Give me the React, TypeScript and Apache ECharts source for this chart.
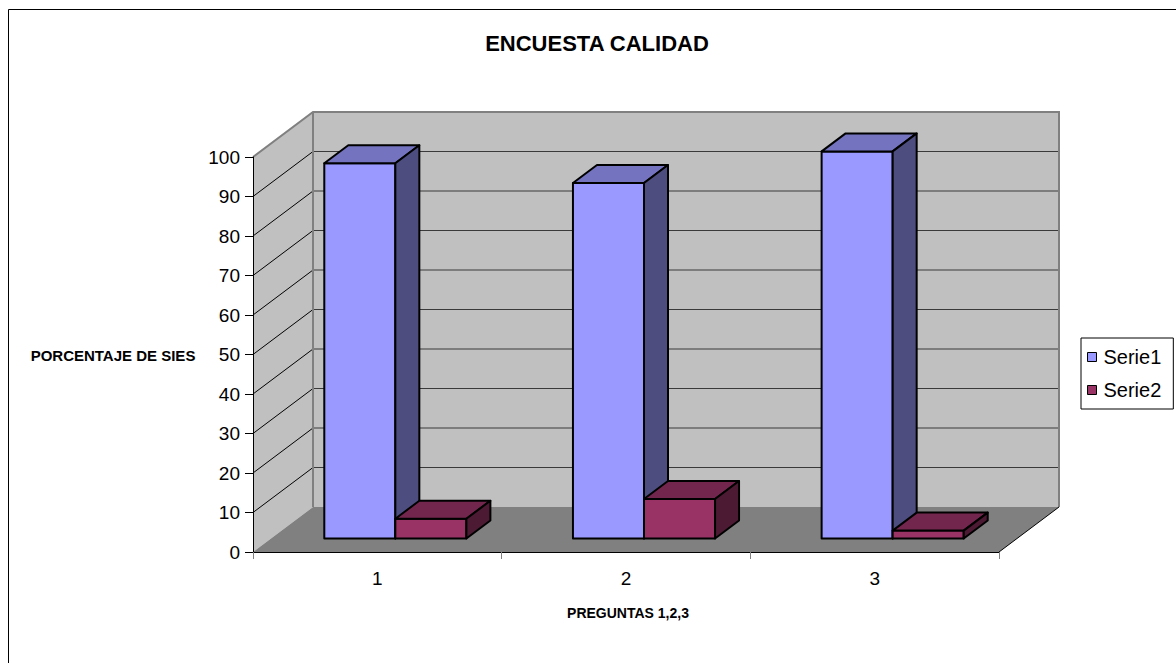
import React, { useEffect, useRef } from "react";
import * as echarts from "echarts";

const categories = ["1", "2", "3"];
const serie1 = [95, 90, 98];
const serie2 = [5, 10, 2];
const yTicks = [0, 10, 20, 30, 40, 50, 60, 70, 80, 90, 100];

const FONT = "'Liberation Sans', Arial, sans-serif";
const DX = 60;
const DY = -45;
const D0 = 0.3;
const D1 = 0.7;

export default function App() {
  const ref = useRef<HTMLDivElement>(null);

  useEffect(() => {
    const chart = echarts.init(ref.current as HTMLDivElement, null, { renderer: "svg" });

    const wallRender = (_params: any, api: any) => {
      const band = api.size([1, 0])[0];
      const c0 = api.coord([0, 0]);
      const cN = api.coord([categories.length - 1, 0]);
      const xL = c0[0] - band / 2;
      const xR = cN[0] + band / 2;
      const y0 = c0[1];
      const yTop = api.coord([0, yTicks[yTicks.length - 1]])[1];
      const children: any[] = [];
      children.push({
        type: "polygon",
        shape: { points: [[xL, y0], [xL + DX, y0 + DY], [xL + DX, yTop + DY], [xL, yTop]] },
        style: { fill: "#C0C0C0" },
      });
      children.push({
        type: "polygon",
        shape: { points: [[xL + DX, yTop + DY], [xR + DX, yTop + DY], [xR + DX, y0 + DY], [xL + DX, y0 + DY]] },
        style: { fill: "#C0C0C0" },
      });
      yTicks.forEach((v) => {
        if (v === 0 || v === yTicks[yTicks.length - 1]) return;
        const y = api.coord([0, v])[1];
        children.push({
          type: "line",
          shape: { x1: xL + DX, y1: y + DY, x2: xR + DX, y2: y + DY },
          style: { stroke: "#3a3a3a", lineWidth: 1 },
        });
        children.push({
          type: "line",
          shape: { x1: xL, y1: y, x2: xL + DX, y2: y + DY },
          style: { stroke: "#000", lineWidth: 1 },
        });
      });
      children.push({
        type: "polygon",
        shape: { points: [[xL, y0], [xL + DX, y0 + DY], [xR + DX, y0 + DY], [xR, y0]] },
        style: { fill: "#808080" },
      });
      children.push({
        type: "polyline",
        shape: { points: [[xL, yTop], [xL + DX, yTop + DY], [xR + DX, yTop + DY], [xR + DX, y0 + DY]] },
        style: { stroke: "#808080", lineWidth: 2, fill: "none" },
      });
      children.push({
        type: "line",
        shape: { x1: xL + DX, y1: yTop + DY, x2: xL + DX, y2: y0 + DY },
        style: { stroke: "#808080", lineWidth: 2 },
      });
      children.push({
        type: "line",
        shape: { x1: xR, y1: y0, x2: xR + DX, y2: y0 + DY },
        style: { stroke: "#000", lineWidth: 1 },
      });
      return { type: "group", children };
    };

    const barRender = (slot: number, front: string, top: string, side: string) => (_params: any, api: any) => {
      const cat = api.value(0);
      const v = api.value(1);
      const band = api.size([1, 0])[0];
      const bw = band / 3.5;
      const c = api.coord([cat, 0]);
      const cv = api.coord([cat, v]);
      const xl = slot === 0 ? c[0] - bw : c[0];
      const xr = xl + bw;
      const fx = DX * D0;
      const fy = DY * D0;
      const bx = DX * (D1 - D0);
      const by = DY * (D1 - D0);
      const yb = c[1] + fy;
      const yt = cv[1] + fy;
      const L = xl + fx;
      const R = xr + fx;
      const st = { stroke: "#000", lineWidth: 2, lineJoin: "round" };
      return {
        type: "group",
        children: [
          { type: "polygon", shape: { points: [[L, yb], [R, yb], [R, yt], [L, yt]] }, style: { ...st, fill: front } },
          { type: "polygon", shape: { points: [[L, yt], [R, yt], [R + bx, yt + by], [L + bx, yt + by]] }, style: { ...st, fill: top } },
          { type: "polygon", shape: { points: [[R, yt], [R, yb], [R + bx, yb + by], [R + bx, yt + by]] }, style: { ...st, fill: side } },
        ],
      };
    };

    chart.setOption({
      animation: false,
      backgroundColor: "#fff",
      grid: { left: 253, right: 177, top: 157, bottom: 111, containLabel: false, outerBoundsMode: "none" },
      xAxis: {
        type: "category",
        data: categories,
        boundaryGap: true,
        z: 10,
        axisLine: { show: true, lineStyle: { color: "#000", width: 1 } },
        axisTick: { show: true, length: 7, lineStyle: { color: "#808080" } },
        axisLabel: { fontSize: 19, color: "#000", fontFamily: FONT, margin: 17 },
        splitLine: { show: false },
      },
      yAxis: {
        type: "value",
        min: 0,
        max: 100,
        interval: 10,
        z: 10,
        axisLine: { show: true, lineStyle: { color: "#000", width: 1 } },
        axisTick: { show: true, length: 8, lineStyle: { color: "#000" } },
        axisLabel: { fontSize: 19, color: "#000", fontFamily: FONT, margin: 13 },
        splitLine: { show: false },
      },
      legend: {
        orient: "vertical",
        left: 1081,
        top: 338,
        padding: [9, 12, 9, 6],
        itemGap: 13,
        itemWidth: 9,
        itemHeight: 9,
        icon: "rect",
        borderColor: "#000",
        borderWidth: 1,
        backgroundColor: "#fff",
        itemStyle: { borderColor: "#000", borderWidth: 1 },
        textStyle: { fontSize: 20, color: "#000", fontFamily: FONT, padding: [0, 0, 0, 2] },
        data: ["Serie1", "Serie2"],
      },
      graphic: [
        { type: "rect", shape: { x: 8.5, y: 9.5, width: 1300, height: 800 }, style: { fill: "none", stroke: "#000", lineWidth: 1 }, z: 100 },
        { type: "text", x: 597, y: 43, style: { text: "ENCUESTA CALIDAD", fontSize: 22, fontWeight: "bold", fontFamily: FONT, fill: "#000", align: "center", verticalAlign: "middle" } },
        { type: "text", x: 113, y: 355, style: { text: "PORCENTAJE DE SIES", fontSize: 15, fontWeight: "bold", fontFamily: FONT, fill: "#000", align: "center", verticalAlign: "middle" } },
        { type: "text", x: 628, y: 613, style: { text: "PREGUNTAS 1,2,3", fontSize: 14, fontWeight: "bold", fontFamily: FONT, fill: "#000", align: "center", verticalAlign: "middle" } },
      ],
      series: [
        {
          type: "custom",
          name: "walls",
          silent: true,
          clip: false,
          z: 1,
          renderItem: wallRender,
          data: [[0, 0]],
        },
        {
          type: "custom",
          name: "Serie1",
          clip: false,
          z: 3,
          itemStyle: { color: "#9999FF" },
          renderItem: barRender(0, "#9999FF", "#7373C0", "#4D4D80"),
          data: serie1.map((v, i) => [i, v]),
        },
        {
          type: "custom",
          name: "Serie2",
          clip: false,
          z: 4,
          itemStyle: { color: "#993366" },
          renderItem: barRender(1, "#993366", "#73264D", "#4D1A33"),
          data: serie2.map((v, i) => [i, v]),
        },
      ],
    });

    return () => chart.dispose();
  }, []);

  return <div ref={ref} style={{ position: "fixed", left: 0, top: 0, width: 1176, height: 663 }} />;
}
